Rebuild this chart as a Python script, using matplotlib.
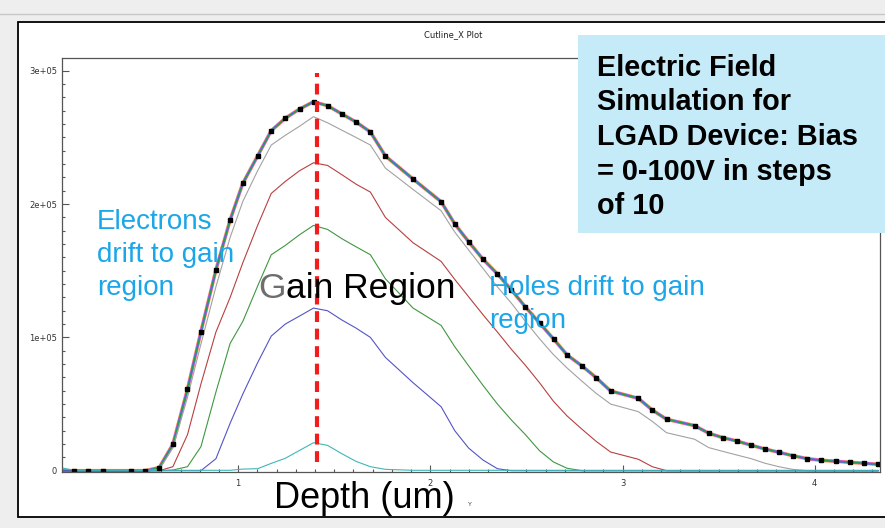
import numpy as np
import matplotlib.pyplot as plt
from matplotlib.patches import Rectangle
from matplotlib.ticker import MultipleLocator, FuncFormatter

# Cutline along X through the LGAD, depth in um
depth = [0.08, 0.146, 0.219, 0.297, 0.441, 0.516, 0.589, 0.660, 0.736, 0.806,
         0.884, 0.958, 1.024, 1.101, 1.172, 1.245, 1.319, 1.392, 1.465, 1.540,
         1.613, 1.688, 1.766, 1.910, 2.056, 2.127, 2.199, 2.274, 2.349, 2.422,
         2.495, 2.568, 2.641, 2.712, 2.790, 2.863, 2.938, 3.082, 3.155, 3.229,
         3.375, 3.449, 3.522, 3.594, 3.670, 3.741, 3.814, 3.885, 3.962, 4.035,
         4.109, 4.182, 4.257, 4.330]

# Electric field in kV/cm for each bias step
field_0v = [2.2, 0.3, 0.3, 0.3, 0.3, 0.3, 0.3, 0.3, 0.3, 0.3,
            0.3, 0.3, 1.2, 1.5, 5.5, 9.3, 15.2, 21.0, 19.0, 12.7,
            7.0, 3.0, 1.0, 0.3, 0.3, 0.3, 0.3, 0.3, 0.3, 0.3,
            0.3, 0.3, 0.3, 0.3, 0.3, 0.3, 0.3, 0.3, 0.3, 0.3,
            0.3, 0.3, 0.3, 0.3, 0.3, 0.3, 0.3, 0.3, 0.3, 0.3,
            0.3, 0.3, 0.3, 0.3]
field_10v = [0, 0, 0, 0, 0, 0, 0, 0, 0, 0,
             9, 35.6, 57.5, 81, 101, 110, 116, 122, 120, 113,
             107, 100, 85, 66, 48, 30, 17, 8, 1.5, 0,
             0, 0, 0, 0, 0, 0, 0, 0, 0, 0,
             0, 0, 0, 0, 0, 0, 0, 0, 0, 0,
             0, 0, 0, 0]
field_20v = [0, 0, 0, 0, 0, 0, 0, 0.5, 3, 18,
             59, 95.5, 112, 138.5, 162, 169, 177, 184, 181, 174,
             168, 162, 144, 122, 109, 93, 78.7, 64, 50, 38,
             27, 15, 6.5, 1.8, 0, 0, 0, 0, 0, 0,
             0, 0, 0, 0, 0, 0, 0, 0, 0, 0,
             0, 0, 0, 0]
field_30v = [0, 0, 0, 0, 0, 0, 0, 3, 27, 65,
             104, 130, 156, 184, 208, 217, 225, 231, 229, 222,
             215, 209, 190, 171, 157, 143.5, 130.5, 117, 104, 91,
             79, 66, 52, 41, 31, 22, 14, 8.6, 3, 0,
             0, 0, 0, 0, 0, 0, 0, 0, 0, 0,
             0, 0, 0, 0]
field_40v = [0, 0, 0, 0, 0, 0, 1.0, 17, 55, 95,
             138, 175, 202, 225, 244.3, 251.6, 258.4, 265.6, 261, 255.4,
             250, 244.3, 227, 211, 195, 179, 165.6, 151.7, 137.9, 125.6,
             112, 99, 87, 77, 67, 58, 50, 44.3, 37, 28.5,
             23.6, 17.3, 14.5, 11.8, 9, 5.6, 3, 1, 0, 0,
             0, 0, 0, 0]
# 50 V to 100 V: the gain layer is saturated, the profiles coincide
field_sat = [0, 0, 0, 0, 0, 0, 2.3, 19.8, 61.1, 104.3,
             150.6, 188.1, 215.6, 236.1, 255.1, 264.4, 271.3, 276.8, 273.8, 267.6,
             261.6, 254.1, 236.1, 218.8, 201.8, 185.1, 171.8, 158.6, 147.6, 135.6,
             122.8, 110.8, 98.8, 86.8, 78.5, 69.8, 59.8, 54.3, 45.5, 38.6,
             33.8, 28.1, 24.8, 22.3, 19.1, 16.3, 13.8, 11.3, 9.0, 7.8,
             7.1, 6.3, 5.6, 4.8]

gain_x = 1.41

W, H = 885, 528
fig = plt.figure(figsize=(W / 100, H / 100), dpi=100)
fig.patch.set_facecolor('#eeeeee')


def fx(px):
    return px / W


def fy(py):
    return 1 - py / H


# window chrome
fig.add_artist(plt.Line2D([0, 1], [fy(14), fy(14)], transform=fig.transFigure,
                          color='#c8c8c8', lw=1))
fig.add_artist(Rectangle((fx(18), fy(517)), fx(910) - fx(18), fy(22) - fy(517),
                         transform=fig.transFigure, fc='white', ec='black',
                         lw=1.3, zorder=-1))

ax = fig.add_axes([fx(62), fy(472), fx(880) - fx(62), fy(58) - fy(472)])
x = np.array(depth)
kv = 1e3

sat = np.array(field_sat) * kv
bundle = [('#ffa726', 2.6), ('#ff77c8', 2.1), ('#d445d4', 1.7),
          ('#2a84ff', 1.3), ('#2e9e3e', 0.8)]
for col, lw in bundle:
    ax.plot(x, sat, color=col, lw=lw, solid_joinstyle='round')

thin = [(field_40v, '#a2a2a2'), (field_30v, '#b84040'), (field_20v, '#3f983f'),
        (field_10v, '#5454c8'), (field_0v, '#3fb7b7')]
for vals, col in thin:
    ax.plot(x, np.array(vals) * kv, color=col, lw=0.8)

ax.plot(x, sat, ls='none', marker='s', ms=3.2, color='black',
        markevery=slice(1, None))

ax.axvline(gain_x, ymin=0.024, ymax=0.964, color='#f21c1c', lw=3,
           ls=(0, (2.6, 1.6)), zorder=4)

ax.set_xlim(0.083, 4.34)
ax.set_ylim(-975, 3.096e5)
ax.xaxis.set_major_locator(MultipleLocator(1))
ax.xaxis.set_minor_locator(MultipleLocator(0.1))
ax.yaxis.set_major_locator(MultipleLocator(1e5))
ax.yaxis.set_minor_locator(MultipleLocator(1e4))
ax.xaxis.set_major_formatter(FuncFormatter(lambda v, _: f'{v:.0f}'))
ax.yaxis.set_major_formatter(FuncFormatter(lambda v, _: '0' if v == 0 else f'{v:.0e}'))
ax.tick_params(which='both', direction='in', color='#555555', width=0.8,
               labelsize=6, labelcolor='#333333')
ax.tick_params(which='major', length=5)
ax.tick_params(which='minor', length=2.5)
ax.tick_params(axis='x', pad=5)
ax.tick_params(axis='y', pad=3.5)
for s in ax.spines.values():
    s.set_color('#555555')
    s.set_linewidth(0.9)

fig.text(fx(453), fy(35), 'Cutline_X Plot', fontsize=6, color='#222222',
         ha='center', va='center')

# annotation box
fig.add_artist(Rectangle((fx(578), fy(233)), fx(890) - fx(578), fy(35) - fy(233),
                         transform=fig.transFigure, fc='#c6ebf8', ec='none',
                         zorder=5))
sans = 'Liberation Sans'
box_lines = ['Electric Field', 'Simulation for', 'LGAD Device: Bias',
             '= 0-100V in steps', 'of 10']
for i, line in enumerate(box_lines):
    fig.text(fx(597), fy(76 + 34.5 * i), line, fontsize=20.8, fontweight='bold',
             family=sans, color='black', va='baseline', zorder=6)

blue = '#1aa6e8'
for i, line in enumerate(['Electrons', 'drift to gain', 'region']):
    fig.text(fx(97), fy(229 + 33 * i), line, fontsize=20, family=sans,
             color=blue, va='baseline', zorder=6)
for i, line in enumerate(['Holes drift to gain', 'region']):
    fig.text(fx(489), fy(295 + 33 * i), line, fontsize=20, family=sans,
             color=blue, va='baseline', zorder=6)

g = fig.text(fx(258), fy(298), 'G', fontsize=25.5, family=sans,
             color='#6e6e6e', va='baseline', zorder=6)
fig.add_artist(plt.Annotation('ain Region', xy=(1, 0), xycoords=g,
                              fontsize=25.5, family=sans, color='black',
                              va='bottom', zorder=6))

fig.text(fx(274), fy(508), 'Depth (um)', fontsize=26, family=sans,
         color='black', va='baseline', zorder=6)
fig.text(fx(468), fy(505), 'Y', fontsize=4.5, color='#444444', va='center')

fig.savefig('out.png', dpi=100, facecolor=fig.get_facecolor())
